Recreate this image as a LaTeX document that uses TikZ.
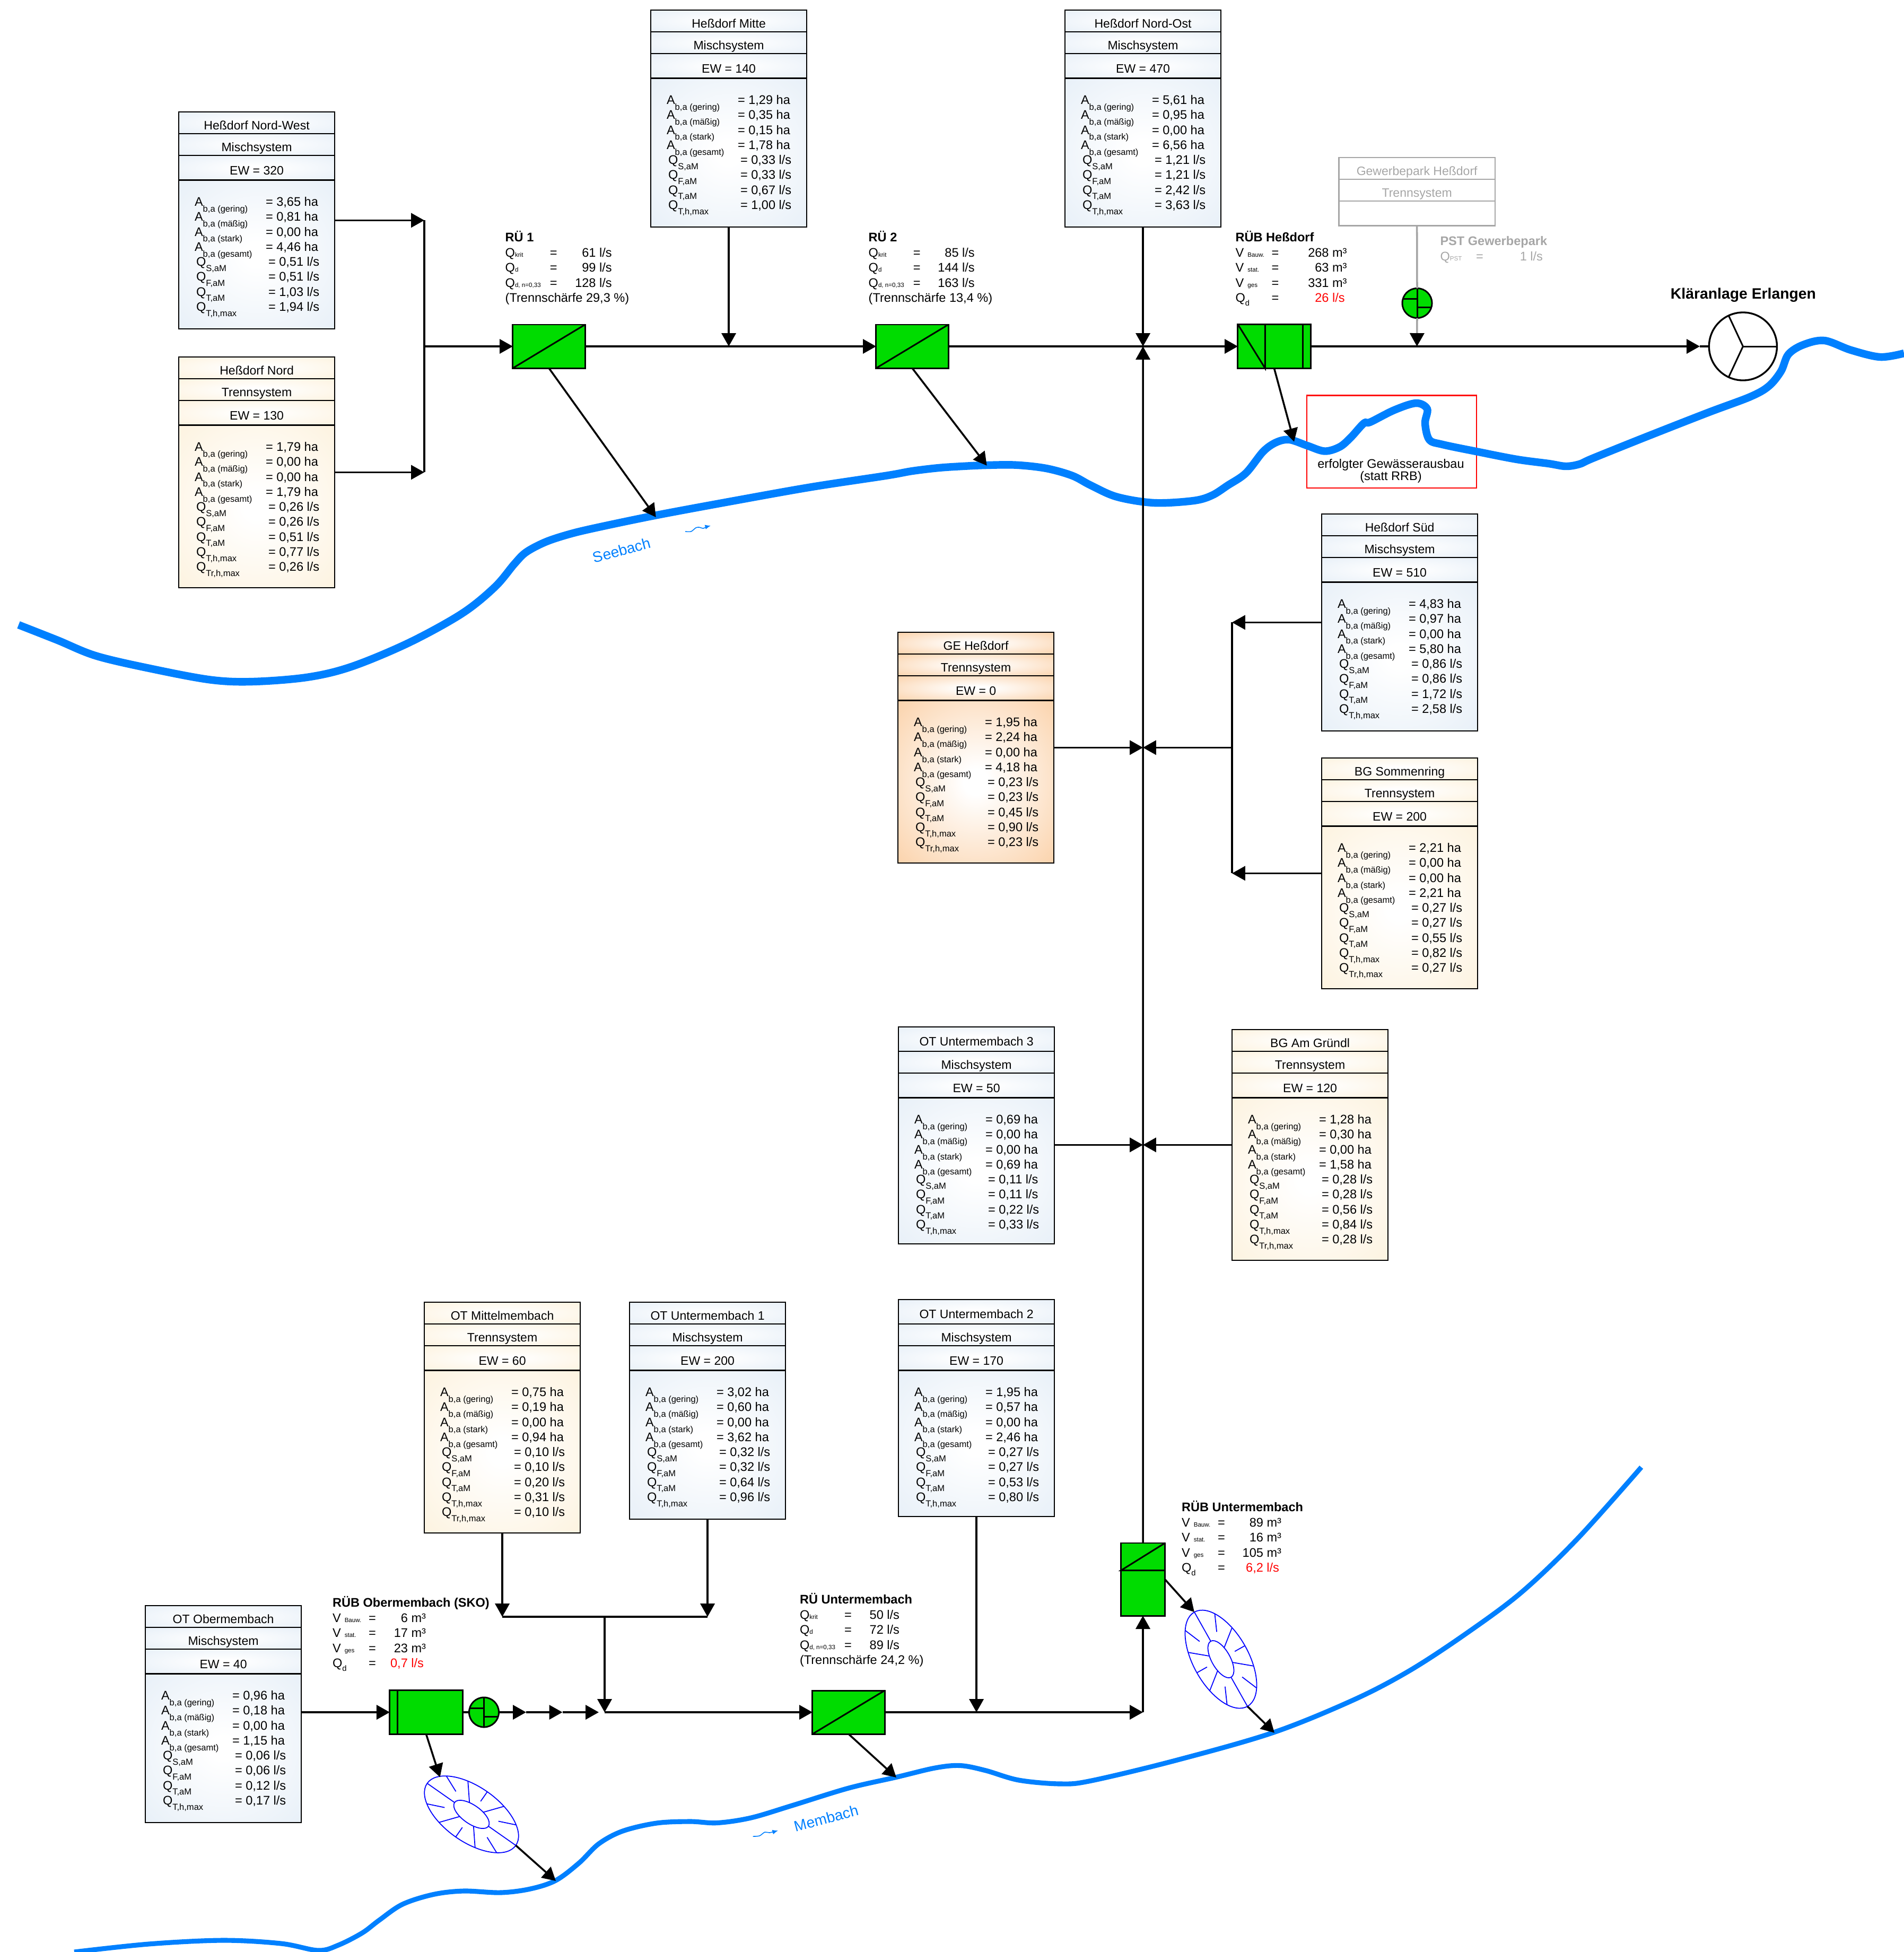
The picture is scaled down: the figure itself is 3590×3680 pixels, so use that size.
\documentclass[tikz,border=0pt]{standalone}
\usepackage{fontspec}
\setmainfont{Liberation Sans}
\usetikzlibrary{arrows.meta,fit,positioning}

\definecolor{mischfarbe}{HTML}{E8F0F8}
\definecolor{trennfarbe}{HTML}{FDF3E0}
\definecolor{gefarbe}{HTML}{FBD3AC}
\definecolor{anlage}{HTML}{00DC00}
\definecolor{bach}{HTML}{0080FF}
\definecolor{hellgrau}{HTML}{A6A6A6}

\pgfdeclareradialshading{misch}{\pgfpoint{0bp}{0bp}}{color(0bp)=(white); color(4bp)=(white); color(35.4bp)=(mischfarbe); color(50bp)=(mischfarbe)}
\pgfdeclareradialshading{trenn}{\pgfpoint{0bp}{0bp}}{color(0bp)=(white); color(4bp)=(white); color(35.4bp)=(trennfarbe); color(50bp)=(trennfarbe)}
\pgfdeclareradialshading{gewerbe}{\pgfpoint{0bp}{0bp}}{color(0bp)=(white); color(4bp)=(white); color(35.4bp)=(gefarbe); color(50bp)=(gefarbe)}

\newcommand{\datfont}{\fontsize{6.7}{6.43}\selectfont}
\newcommand{\kopffont}{\fontsize{6.55}{8}\selectfont}
\newcommand{\tieffont}{\fontsize{4.7}{5}\selectfont}
\newcommand{\kleinfont}{\fontsize{3.3}{4}\selectfont}
\newcommand{\titelfont}{\fontsize{6.7}{8}\selectfont\bfseries}

\tikzset{
  cardcell/.style={shade,shading=#1,draw=black,line width=.65pt,minimum width=2.94cm,
    inner sep=0pt,outer sep=0pt,text height=7.3pt,text depth=0pt,font=\kopffont},
  greycell/.style={draw=hellgrau,fill=white,text=hellgrau,line width=.65pt,minimum width=2.94cm,
    inner sep=0pt,outer sep=0pt,text height=7.3pt,text depth=0pt,font=\kopffont},
  zeile/.style={anchor=base west,inner sep=0pt,outer sep=0pt,font=\datfont},
  bauwerk/.style={draw=black,fill=anlage,line width=.85pt,inner sep=0pt,outer sep=0pt},
  pumpe/.style={circle,bauwerk,minimum size=.56cm},
  einbau/.style={line width=.85pt},
  sickerung/.style={draw=blue,line width=.5pt},
  seebach/.style={draw=bach,line width=4.1pt},
  membach/.style={draw=bach,line width=2.6pt},
  welle/.style={draw=bach,line width=.45pt,>={Latex[length=3pt,width=2.5pt]}}
}

% Gebietskarte: name, x, y, shading, titel, system, EW, hoehe datenfeld, hoehe kopf
\newcommand{\gebiet}[9]{
  \node[cardcell=#4,minimum height=#9,anchor=north west] (#1t) at (#2,#3) {#5};
  \node[cardcell=#4,minimum height=.41cm,below=0pt of #1t] (#1s) {#6};
  \node[cardcell=#4,minimum height=.465cm,below=0pt of #1s] (#1e) {EW = #7};
  \node[cardcell=#4,minimum height=#8,below=0pt of #1e] (#1d) {};
  \node[fit=(#1t)(#1d),inner sep=0pt,outer sep=0pt] (#1) {};
}
\newcommand{\werteA}[5]{
  \foreach \tief/\wert [count=\nr from 0] in {gering/{#2},mäßig/{#3},stark/{#4},gesamt/{#5}} {
    \path (#1d.north west) ++(30,{49+28.25*\nr})
      node[zeile] (#1a\nr) {A\raisebox{-3.1pt}{\tieffont b,a (\tief)}}
      ++(134,0) node[zeile] (#1v\nr) {= \wert{} ha};
  }
}
\newcommand{\werteQ}[5]{
  \foreach \tief/\wert [count=\nr from 4] in {{S,aM}/{#2},{F,aM}/{#3},{T,aM}/{#4},{T,h,max}/{#5}} {
    \path (#1d.north west) ++(33,{49+28.25*\nr})
      node[zeile] (#1a\nr) {Q\raisebox{-2.8pt}{\tieffont \tief}}
      ++(136,0) node[zeile] (#1v\nr) {= \wert{} l/s};
  }
}
\newcommand{\werteTr}[2]{
  \path (#1d.north west) ++(33,{49+28.25*8})
    node[zeile] (#1a8) {Q\raisebox{-2.8pt}{\tieffont Tr,h,max}}
    ++(136,0) node[zeile] (#1v8) {= #2 l/s};
}
% RUe: name, x, y, titel, rechter rand, drei werte, trennschaerfe
\newcommand{\ruenote}[9]{
  \node[zeile,font=\titelfont] (#1h) at (#2,#3) {#4};
  \foreach \tief/\wert [count=\nr from 0] in {krit/{#6},d/{#7},{d, n=0,33}/{#8}} {
    \path (#1h.base west) ++(0,{29+28.5*\nr})
      node[zeile] (#1l\nr) {Q{\kleinfont \tief}}
      ++(91,0) node[zeile,anchor=base] (#1g\nr) {=}
      ++({#5-91},0) node[zeile,anchor=base east] (#1w\nr) {\wert{} l/s};
  }
  \path (#1h.base west) ++(0,{29+28.5*3}) node[zeile] (#1s) {(Trennschärfe #9 \%)};
}
% RUeB: name, x, y, titel, rechter rand, V bauw, V stat, V ges, Qd
\newcommand{\ruebnote}[9]{
  \node[zeile,font=\titelfont] (#1h) at (#2,#3) {#4};
  \foreach \tief/\wert [count=\nr from 0] in {Bauw./{#6},stat./{#7},ges/{#8}} {
    \path (#1h.base west) ++(0,{29+28.5*\nr})
      node[zeile] (#1l\nr) {V\hspace{2pt}{\kleinfont \tief}}
      ++(75,0) node[zeile,anchor=base] (#1g\nr) {=}
      ++({#5-75},0) node[zeile,anchor=base east] (#1w\nr) {\wert{} m³};
  }
  \path (#1h.base west) ++(0,{29+28.5*3}) node[zeile] (#1l3) {Q\raisebox{-1.9pt}{\fontsize{4.2}{5}\selectfont d}}
    ++(75,0) node[zeile,anchor=base] (#1g3) {=}
    ++({#5-79},0) node[zeile,anchor=base east,text=red] (#1w3) {#9 l/s};
}
\newcommand{\pumpwerk}[3]{
  \node[pumpe] (#1) at (#2,#3) {};
  \draw[einbau] (#1.north) -- (#1.south);
  \draw[einbau] (#2-27,#3-8) -- (#2,#3-8);
  \draw[einbau] (#2,#3+8) -- (#2+27,#3+8);
}
% Versickerung: name, x, y, drehung
\newcommand{\versick}[4]{
  \begin{scope}[shift={(#2,#3)},rotate=#4]
    \draw[sickerung] (0,0) circle [x radius=102,y radius=52];
    \draw[sickerung] (0,0) circle [x radius=39,y radius=17.5];
    \foreach \t in {0,66,114,180,246,294}
      \draw[sickerung] ({39*cos(\t)},{17.5*sin(\t)}) -- ({102*cos(\t)},{52*sin(\t)});
    \foreach \t in {38,90,142,218,270,322}
      \draw[sickerung] ({102*cos(\t)},{52*sin(\t)}) -- ({62*cos(\t)},{30*sin(\t)});
    \coordinate (#1ein) at (-102,0);
    \coordinate (#1aus) at (102,0);
  \end{scope}
}

\begin{document}
\begin{tikzpicture}[x=0.01cm,y=-0.01cm,line width=1pt,>={Triangle[length=7.1pt,width=7.7pt]}]
  \useasboundingbox (0,0) rectangle (3590,3680);

  % Gewaesserausbau und Baeche
  \node[draw=red,line width=.6pt,minimum width=3.2cm,minimum height=1.745cm,inner sep=0pt] (ausbau) at (2623.7,832.8) {};
  \draw[seebach] plot[smooth,tension=.55] coordinates {(35,1178) (108,1206.7) (182,1236.7) (290,1261.7) (398,1281.7)
    (477,1285) (580,1276.7) (663,1256.7) (771,1211.7) (871,1156.7) (933,1106.7) (970,1063) (992,1041) (1028,1022) (1070,1008) (1119,996)
    (1235.5,971.7) (1390,943) (1530.6,918) (1671,896.7) (1720,888) (1770,882) (1815,879) (1860,877) (1916,876.7) (1972.6,883) (2021.6,896.7)
    (2056.7,915) (2106,936.7) (2176,948) (2250,944) (2285,934) (2315,915) (2349,892) (2382,851) (2407,833.6) (2431.6,829)
    (2464.5,840) (2497.5,850.5) (2526,842.5) (2547,824.6) (2571.5,798) (2584,795.6) (2629,773) (2670,760) (2691,771)
    (2687,798) (2695,829) (2720,838) (2785,851.4) (2860,866) (2920,874) (2952,879) (2978,875) (3003,864) (3100,825) (3220,778) (3300,748)
    (3335,728) (3358,700) (3372,668) (3400,650) (3440,642) (3490,660) (3545,673) (3590,666)};
  \draw[membach] plot[smooth,tension=.55] coordinates {(140,3680) (280,3665) (420,3658) (530,3664) (600,3677) (638,3667) (683,3644) (715,3620) (759,3590)
    (817,3571.5) (874,3565) (944,3568) (1000,3561) (1048,3545) (1092,3512) (1129,3476) (1174,3452) (1238,3437) (1301.5,3434)
    (1352.5,3436.5) (1416,3427) (1493,3404) (1600,3371) (1689.5,3350.5) (1763,3333) (1810.5,3328.5) (1858,3337.7) (1921,3356)
    (2000,3363) (2058,3357) (2216,3319) (2400,3266.5) (2552.6,3204.5) (2658,3149.4) (2763,3080.6) (2868,3002.5) (2973.7,2901.5)
    (3094.7,2766)};
  \node[font=\fontsize{8}{9}\selectfont,text=bach,rotate=15,inner sep=0pt] (seelabel) at (1172,1037) {Seebach};
  \node[font=\fontsize{8}{9}\selectfont,text=bach,rotate=15,inner sep=0pt] (memlabel) at (1558,3428) {Membach};
  \draw[welle,->] plot[smooth] coordinates {(1292,1002) (1303,1002) (1312,995) (1318,994) (1326,996) (1333,993) (1340,991)};
  \draw[welle,->] plot[smooth] coordinates {(1419.5,3462) (1432,3461) (1442,3454) (1451,3455) (1467,3451)};
  \node[font=\datfont,align=center,inner sep=0pt] (ausbautext) at (2622.5,888) {erfolgter Gewässerausbau\\(statt RRB)};

  % Gebiete
  \gebiet{nw}{337}{211}{misch}{Heßdorf Nord-West}{Mischsystem}{320}{2.8cm}{.41cm}
  \werteA{nw}{3,65}{0,81}{0,00}{4,46} \werteQ{nw}{0,51}{0,51}{1,03}{1,94}
  \gebiet{nd}{337}{673}{trenn}{Heßdorf Nord}{Trennsystem}{130}{3.06cm}{.41cm}
  \werteA{nd}{1,79}{0,00}{0,00}{1,79} \werteQ{nd}{0,26}{0,26}{0,51}{0,77} \werteTr{nd}{0,26}
  \gebiet{mi}{1227}{19}{misch}{Heßdorf Mitte}{Mischsystem}{140}{2.8cm}{.41cm}
  \werteA{mi}{1,29}{0,35}{0,15}{1,78} \werteQ{mi}{0,33}{0,33}{0,67}{1,00}
  \gebiet{no}{2008}{19}{misch}{Heßdorf Nord-Ost}{Mischsystem}{470}{2.8cm}{.41cm}
  \werteA{no}{5,61}{0,95}{0,00}{6,56} \werteQ{no}{1,21}{1,21}{2,42}{3,63}
  \gebiet{su}{2492}{969}{misch}{Heßdorf Süd}{Mischsystem}{510}{2.8cm}{.41cm}
  \werteA{su}{4,83}{0,97}{0,00}{5,80} \werteQ{su}{0,86}{0,86}{1,72}{2,58}
  \gebiet{so}{2492}{1429}{trenn}{BG Sommenring}{Trennsystem}{200}{3.06cm}{.41cm}
  \werteA{so}{2,21}{0,00}{0,00}{2,21} \werteQ{so}{0,27}{0,27}{0,55}{0,82} \werteTr{so}{0,27}
  \gebiet{ge}{1693}{1192}{gewerbe}{GE Heßdorf}{Trennsystem}{0}{3.06cm}{.41cm}
  \werteA{ge}{1,95}{2,24}{0,00}{4,18} \werteQ{ge}{0,23}{0,23}{0,45}{0,90} \werteTr{ge}{0,23}
  \gebiet{ut}{1694}{1936}{misch}{OT Untermembach 3}{Mischsystem}{50}{2.75cm}{.46cm}
  \werteA{ut}{0,69}{0,00}{0,00}{0,69} \werteQ{ut}{0,11}{0,11}{0,22}{0,33}
  \gebiet{gr}{2323}{1941}{trenn}{BG Am Gründl}{Trennsystem}{120}{3.06cm}{.41cm}
  \werteA{gr}{1,28}{0,30}{0,00}{1,58} \werteQ{gr}{0,28}{0,28}{0,56}{0,84} \werteTr{gr}{0,28}
  \gebiet{mm}{800}{2455}{trenn}{OT Mittelmembach}{Trennsystem}{60}{3.06cm}{.41cm}
  \werteA{mm}{0,75}{0,19}{0,00}{0,94} \werteQ{mm}{0,10}{0,10}{0,20}{0,31} \werteTr{mm}{0,10}
  \gebiet{ua}{1187}{2455}{misch}{OT Untermembach 1}{Mischsystem}{200}{2.8cm}{.41cm}
  \werteA{ua}{3,02}{0,60}{0,00}{3,62} \werteQ{ua}{0,32}{0,32}{0,64}{0,96}
  \gebiet{ub}{1694}{2450}{misch}{OT Untermembach 2}{Mischsystem}{170}{2.75cm}{.46cm}
  \werteA{ub}{1,95}{0,57}{0,00}{2,46} \werteQ{ub}{0,27}{0,27}{0,53}{0,80}
  \gebiet{ob}{274}{3027}{misch}{OT Obermembach}{Mischsystem}{40}{2.8cm}{.41cm}
  \werteA{ob}{0,96}{0,18}{0,00}{1,15} \werteQ{ob}{0,06}{0,06}{0,12}{0,17}

  % Gewerbepark
  \node[greycell,minimum height=.41cm,anchor=north west] (gwt) at (2524.6,297) {Gewerbepark Heßdorf};
  \node[greycell,minimum height=.41cm,below=0pt of gwt] (gws) {Trennsystem};
  \node[greycell,minimum height=.465cm,below=0pt of gws] (gwe) {};

  % Bauwerke
  \node[bauwerk,minimum width=1.36cm,minimum height=.82cm] (ruA) at (1035,653) {};
  \node[bauwerk,minimum width=1.36cm,minimum height=.82cm] (ruB) at (1720,653) {};
  \node[bauwerk,minimum width=1.37cm,minimum height=.83cm] (rubH) at (2402.5,653) {};
  \node[bauwerk,minimum width=1.36cm,minimum height=.82cm] (ruU) at (1600,3228) {};
  \node[bauwerk,minimum width=1.37cm,minimum height=.825cm] (rubO) at (803.5,3228) {};
  \node[bauwerk,minimum width=.83cm,minimum height=1.37cm] (rubU) at (2155,2977.5) {};
  \draw[einbau] (ruA.south west) -- (ruA.north east);
  \draw[einbau] (ruB.south west) -- (ruB.north east);
  \draw[einbau] (ruU.south west) -- (ruU.north east);
  \draw[einbau] (rubH.north west) -- ++(51.5,83) -- ++(0,-83);
  \draw[einbau] (rubH.north west) ++(122.5,0) -- ++(0,83);
  \draw[einbau] (rubO.north west) ++(15,0) -- ++(0,82.5);
  \draw[einbau] (rubU.north east) -- ++(-83,51.7) -- ++(83,0);
  \pumpwerk{pumpG}{2672}{571.5}
  \pumpwerk{pumpO}{912.5}{3228}
  \versick{sickO}{889}{3420.5}{-35}
  \versick{sickU}{2302}{3128}{-60.6}
  \node[circle,draw=black,line width=.95pt,minimum size=1.28cm,inner sep=0pt,outer sep=0pt] (kla) at (3286.4,653) {};
  \foreach \w in {0,115,245}
    \draw[einbau] (kla.center) -- (kla.\w);
  \node[font=\fontsize{8.06}{9}\selectfont\bfseries,anchor=base,inner sep=0pt] (klat) at (3287,563) {Kläranlage Erlangen};

  % Beschriftung
  \ruenote{noteA}{952.7}{455}{RÜ 1}{201}{61}{99}{128}{29,3}
  \ruenote{noteB}{1637.7}{455}{RÜ 2}{200}{85}{144}{163}{13,4}
  \ruenote{noteU}{1508}{3023}{RÜ Untermembach}{188}{50}{72}{89}{24,2}
  \ruebnote{noteH}{2329.6}{455.4}{RÜB Heßdorf}{210}{268}{63}{331}{26}
  \ruebnote{noteT}{2228}{2849}{RÜB Untermembach}{188}{89}{16}{105}{6,2}
  \ruebnote{noteO}{627}{3029}{RÜB Obermembach (SKO)}{176}{6}{17}{23}{0,7}
  \node[zeile,font=\titelfont,text=hellgrau] (psth) at (2715.5,462) {PST Gewerbepark};
  \node[zeile,text=hellgrau] (pstl) at (2715.5,491.5) {Q{\kleinfont PST}};
  \node[zeile,anchor=base,text=hellgrau] (pstg) at (2790,491.5) {=};
  \node[zeile,anchor=base east,text=hellgrau] (pstw) at (2909,491.5) {1 l/s};

  % Knoten
  \coordinate (jNW) at (800,0 |- nw.east);
  \coordinate (jND) at (800,0 |- nd.east);
  \coordinate (jRA) at (800,653);
  \coordinate (jMI) at (mi.south |- ruA.east);
  \coordinate (jNO) at (no.south |- rubH.east);
  \coordinate (jGW) at (gwe.south |- rubH.east);
  \coordinate (jKA) at (3205,653);
  \coordinate (jSU) at (2323,0 |- su.west);
  \coordinate (jSO) at (2323,0 |- so.west);
  \coordinate (jSM) at (2323,0 |- ge.east);
  \coordinate (jGE) at (2155,0 |- ge.east);
  \coordinate (jGR) at (2155,0 |- gr.west);
  \coordinate (jMM) at (mm.south |- 0,3048);
  \coordinate (jUA) at (ua.south |- 0,3048);
  \coordinate (jSA) at (1140,3048);
  \coordinate (jP1) at (992,3228);
  \coordinate (jP2) at (1060.5,3228);
  \coordinate (jP3) at (1129,3228);
  \coordinate (jSB) at (1140,3228);
  \coordinate (jUB) at (ub.south |- 0,3228);
  \coordinate (jEK) at (rubU.south |- 0,3228);
  \coordinate (bachA) at (1236.7,975);
  \coordinate (bachB) at (1860.7,877.8);
  \coordinate (bachH) at (2440,832.7);
  \coordinate (bachU) at (1690,3351);
  \coordinate (bachO) at (1048,3546);
  \coordinate (bachT) at (2403,3266.7);
  \coordinate (sickOtop) at (829.6,3350.4);

  % Leitungen
  \path[->] (nw.east) edge (jNW)
            (nd.east) edge (jND)
            (jRA) edge (ruA.west)
            (ruA.east) edge (ruB.west)
            (mi.south) edge (jMI)
            (ruB.east) edge (rubH.west)
            (no.south) edge (jNO)
            (rubU.north) edge (jNO)
            (rubH.east) edge (jKA)
            (su.west) edge (jSU)
            (so.west) edge (jSO)
            (jSM) edge (jGE)
            (ge.east) edge (jGE)
            (gr.west) edge (jGR)
            (ut.east |- jGR) edge (jGR)
            (ruA.south) edge (bachA)
            (ruB.south) edge (bachB)
            (rubH.south) edge (bachH)
            (mm.south) edge (jMM)
            (ua.south) edge (jUA)
            (jSA) edge (jSB)
            (ob.east |- rubO.west) edge (rubO.west)
            (pumpO.east) edge (jP1)
            (jP1) edge (jP2)
            (jP2) edge (jP3)
            (jSB) edge (ruU.west)
            (ub.south) edge (jUB)
            (ruU.east) edge (jEK)
            (jEK) edge (rubU.south)
            (ruU.south) edge (bachU)
            (rubO.south) edge (sickOtop)
            (sickOaus) edge (bachO)
            (rubU.east) edge (sickUein)
            (sickUaus) edge (bachT);
  \draw (jNW) -- (jND);
  \draw (jSU) -- (jSO);
  \draw (jMM) -- (jUA);
  \draw (jKA) -- (kla.west);
  \draw (rubO.east) -- (pumpO.west);
  \draw[hellgrau] (gwe.south) -- (pumpG.north);
  \draw[hellgrau,-{Triangle[length=7.1pt,width=7.7pt,black]}] (pumpG.south) -- (jGW);
\end{tikzpicture}
\end{document}
